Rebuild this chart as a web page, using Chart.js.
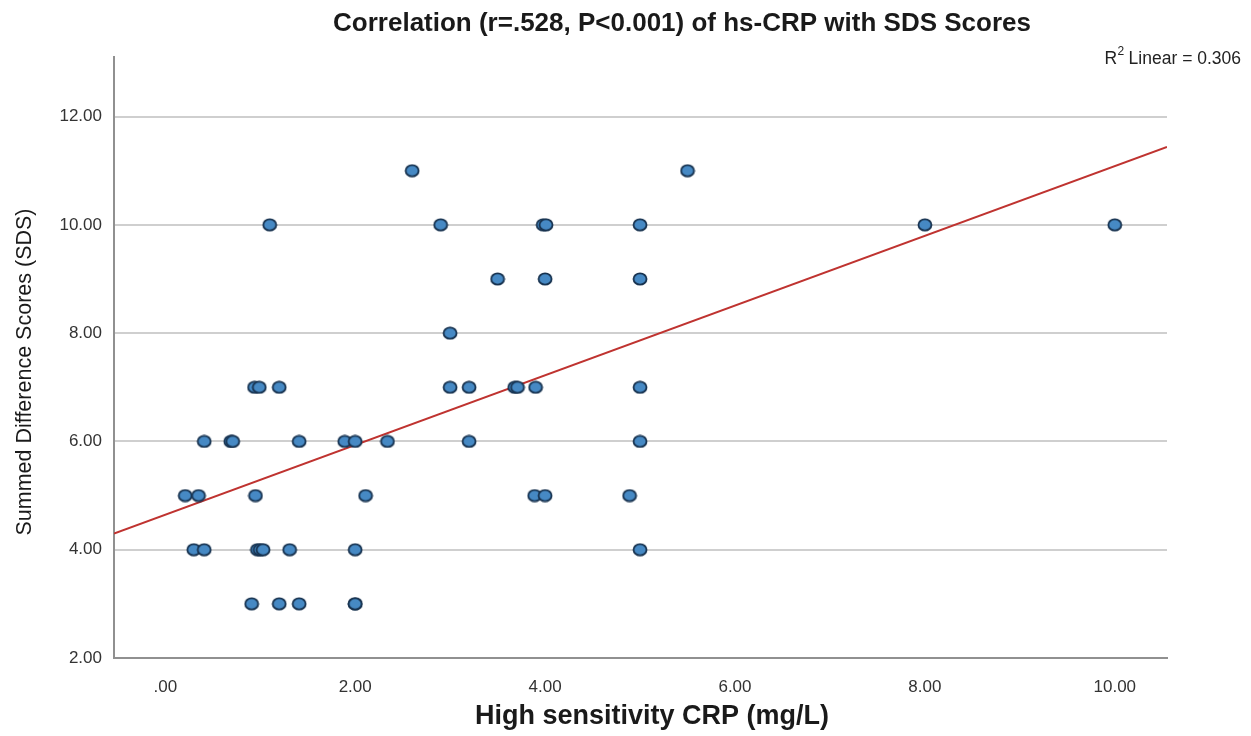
<!DOCTYPE html>
<html>
<head>
<meta charset="utf-8">
<script src="https://cdn.jsdelivr.net/npm/chart.js@4"></script>
<style>
  html, body { margin: 0; padding: 0; background: #fff; }
  #wrap { width: 1251px; height: 736px; }
</style>
</head>
<body>
<div id="wrap"><canvas id="chart" width="1251" height="736"></canvas></div>
<script>
// 데이터
const crpValues = [
  2.6, 5.5,
  1.1, 2.9, 3.98, 4.01, 5.0, 8.0, 10.0,
  3.5, 4.0, 5.0,
  3.0,
  0.94, 0.99, 1.2, 3.0, 3.2, 3.68, 3.71, 3.9, 5.0,
  0.41, 0.69, 0.71, 1.41, 1.89, 2.0, 2.34, 3.2, 5.0,
  0.21, 0.35, 0.95, 2.11, 3.89, 4.0, 4.89,
  0.3, 0.41, 0.97, 1.0, 1.03, 1.31, 2.0, 5.0,
  0.91, 1.2, 1.41, 2.0, 2.0
];
const sdsValues = [
  11, 11,
  10, 10, 10, 10, 10, 10, 10,
  9, 9, 9,
  8,
  7, 7, 7, 7, 7, 7, 7, 7, 7,
  6, 6, 6, 6, 6, 6, 6, 6, 6,
  5, 5, 5, 5, 5, 5, 5,
  4, 4, 4, 4, 4, 4, 4, 4,
  3, 3, 3, 3, 3
];
const fitLineX = [-0.54, 10.55];
const fitLineY = [4.30, 11.44];

const xTicks = [0, 2, 4, 6, 8, 10];
const xTickLabels = ['.00', '2.00', '4.00', '6.00', '8.00', '10.00'];
const yTicks = [2, 4, 6, 8, 10, 12];
const yTickLabels = ['2.00', '4.00', '6.00', '8.00', '10.00', '12.00'];

const titleText = 'Correlation (r=.528, P<0.001) of hs-CRP with SDS Scores';
const xTitleText = 'High sensitivity CRP (mg/L)';
const yTitleText = 'Summed Difference Scores (SDS)';
const r2Text = ' Linear = 0.306';

const FONT = "'Liberation Sans', Arial, sans-serif";

// 타원 모양 점
function makeDot() {
  const c = document.createElement('canvas');
  c.width = 16; c.height = 14;
  const g = c.getContext('2d');
  g.beginPath();
  g.ellipse(8, 7, 6.5, 5.6, 0, 0, Math.PI * 2);
  g.fillStyle = '#4689c4';
  g.fill();
  g.lineWidth = 1.8;
  g.strokeStyle = '#17324f';
  g.stroke();
  return c;
}

const textPlugin = {
  id: 'texts',
  afterDraw(chart) {
    const ctx = chart.ctx;
    ctx.save();
    ctx.fillStyle = '#1a1a1a';
    ctx.textBaseline = 'middle';

    ctx.font = 'bold 26px ' + FONT;
    ctx.textAlign = 'center';
    ctx.fillText(titleText, 682, 24);

    ctx.font = 'bold 27px ' + FONT;
    ctx.fillText(xTitleText, 652, 717);

    ctx.save();
    ctx.translate(25, 372);
    ctx.rotate(-Math.PI / 2);
    ctx.font = '21.5px ' + FONT;
    ctx.fillText(yTitleText, 0, 0);
    ctx.restore();

    // R² 표시
    ctx.fillStyle = '#222';
    ctx.textAlign = 'left';
    ctx.font = '17.5px ' + FONT;
    const wR = ctx.measureText('R').width;
    const wRest = ctx.measureText(r2Text).width;
    ctx.font = '12px ' + FONT;
    const wSup = ctx.measureText('2').width;
    const x0 = 1241 - (wR + wSup + wRest);
    ctx.font = '17.5px ' + FONT;
    ctx.fillText('R', x0, 59);
    ctx.font = '12px ' + FONT;
    ctx.fillText('2', x0 + wR + 0.5, 52);
    ctx.font = '17.5px ' + FONT;
    ctx.fillText(r2Text, x0 + wR + wSup, 59);
    ctx.restore();
  }
};

new Chart(document.getElementById('chart'), {
  type: 'scatter',
  data: {
    datasets: [
      {
        label: 'fit',
        type: 'line',
        data: fitLineX.map((x, i) => ({ x: x, y: fitLineY[i] })),
        borderColor: '#bf3330',
        borderWidth: 2,
        pointRadius: 0,
        fill: false,
        order: 2
      },
      {
        label: 'SDS',
        data: crpValues.map((x, i) => ({ x: x, y: sdsValues[i] })),
        pointStyle: makeDot(),
        pointRadius: 6,
        order: 1
      }
    ]
  },
  options: {
    responsive: false,
    animation: false,
    events: [],
    layout: { padding: { top: 57, right: 84, left: 0, bottom: 0 } },
    plugins: {
      legend: { display: false },
      tooltip: { enabled: false }
    },
    scales: {
      x: {
        type: 'linear',
        min: fitLineX[0],
        max: fitLineX[1],
        afterBuildTicks: s => { s.ticks = xTicks.map(v => ({ value: v })); },
        afterFit: s => { s.height = 78; },
        grid: { display: false, drawTicks: false },
        border: { display: true, color: '#909090', width: 2 },
        ticks: {
          padding: 19,
          color: '#333',
          font: { family: FONT, size: 17 },
          callback: v => xTickLabels[xTicks.indexOf(v)]
        }
      },
      y: {
        type: 'linear',
        min: 2,
        max: 13.1,
        afterBuildTicks: s => { s.ticks = yTicks.map(v => ({ value: v })); },
        afterFit: s => { s.width = 114; },
        grid: { color: '#cfcfcf', lineWidth: 2, drawTicks: false },
        border: { display: true, color: '#909090', width: 2 },
        ticks: {
          padding: 12,
          color: '#333',
          font: { family: FONT, size: 17 },
          callback: v => yTickLabels[yTicks.indexOf(v)]
        }
      }
    }
  },
  plugins: [textPlugin]
});
</script>
</body>
</html>
